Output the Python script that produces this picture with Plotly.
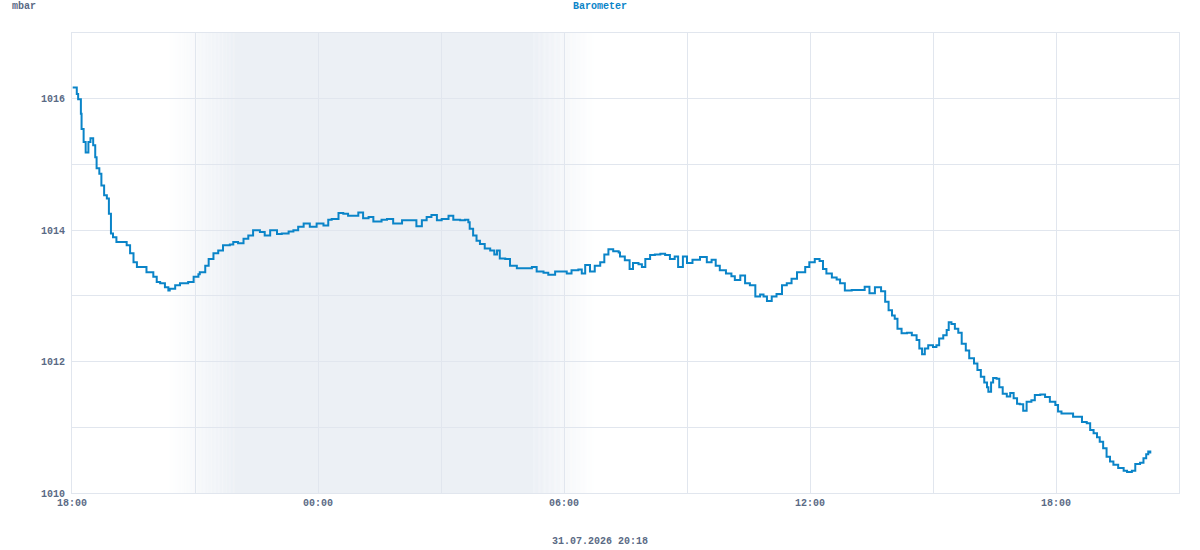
import plotly.graph_objects as go
import pandas as pd

# ---- data -------------------------------------------------------------
start_date = "2026-07-30"
times = [
    "18:01", "18:07", "18:09", "18:13", "18:14", "18:17", "18:20", "18:24", "18:27", "18:31",
    "18:34", "18:36", "18:40", "18:43", "18:47", "18:51", "18:54", "18:57", "19:00", "19:05",
    "19:13", "19:20", "19:25", "19:30", "19:35", "19:42", "19:49", "19:59", "20:04", "20:09",
    "20:16", "20:21", "20:23", "20:31", "20:38", "20:50", "20:58", "21:05", "21:07", "21:15",
    "21:20", "21:27", "21:34", "21:41", "21:51", "21:56", "22:03", "22:11", "22:18", "22:25",
    "22:35", "22:42", "22:50", "23:00", "23:07", "23:17", "23:24", "23:31", "23:39", "23:48",
    "23:58", "00:08", "00:15", "00:20", "00:30", "00:37", "00:44", "00:59", "01:06", "01:14",
    "01:21", "01:33", "01:41", "01:50", "02:03", "02:15", "02:24", "02:32", "02:39", "02:46",
    "02:54", "03:01", "03:11", "03:18", "03:28", "03:35", "03:40", "03:42", "03:47", "03:52",
    "03:57", "04:04", "04:12", "04:18", "04:22", "04:26", "04:34", "04:41", "04:51", "05:00",
    "05:13", "05:20", "05:30", "05:37", "05:47", "05:54", "06:04", "06:11", "06:21", "06:26",
    "06:31", "06:38", "06:45", "06:53", "06:59", "07:05", "07:12", "07:20", "07:22", "07:29",
    "07:36", "07:41", "07:49", "07:54", "07:59", "08:06", "08:13", "08:21", "08:28", "08:35",
    "08:42", "08:47", "08:54", "09:00", "09:08", "09:19", "09:29", "09:36", "09:42", "09:48",
    "09:57", "10:05", "10:10", "10:18", "10:25", "10:32", "10:40", "10:47", "10:52", "10:57",
    "11:04", "11:11", "11:19", "11:26", "11:33", "11:41", "11:48", "11:53", "11:59", "12:07",
    "12:14", "12:19", "12:24", "12:32", "12:39", "12:44", "12:51", "13:01", "13:11", "13:20",
    "13:27", "13:35", "13:44", "13:50", "13:55", "14:00", "14:04", "14:08", "14:14", "14:22",
    "14:29", "14:36", "14:40", "14:44", "14:48", "14:53", "15:00", "15:05", "15:09", "15:15",
    "15:20", "15:23", "15:27", "15:32", "15:37", "15:42", "15:48", "15:53", "16:00", "16:05",
    "16:10", "16:15", "16:19", "16:21", "16:25", "16:28", "16:33", "16:37", "16:42", "16:48",
    "16:53", "16:58", "17:03", "17:07", "17:12", "17:17", "17:24", "17:29", "17:37", "17:44",
    "17:51", "17:59", "18:03", "18:08", "18:18", "18:25", "18:33", "18:38", "18:45", "18:50",
    "18:55", "19:00", "19:04", "19:09", "19:14", "19:19", "19:24", "19:31", "19:39", "19:44",
    "19:51", "19:56", "20:03", "20:08", "20:12", "20:15", "20:18",
]
pressure = [
    1016.17, 1016.07, 1015.99, 1015.77, 1015.54, 1015.34, 1015.18, 1015.34, 1015.40, 1015.29,
    1015.11, 1014.94, 1014.86, 1014.68, 1014.53, 1014.48, 1014.25, 1013.95, 1013.89, 1013.82,
    1013.82, 1013.77, 1013.65, 1013.51, 1013.44, 1013.44, 1013.36, 1013.29, 1013.21, 1013.19,
    1013.13, 1013.08, 1013.11, 1013.16, 1013.19, 1013.21, 1013.29, 1013.33, 1013.36, 1013.46,
    1013.56, 1013.65, 1013.69, 1013.77, 1013.78, 1013.82, 1013.80, 1013.87, 1013.92, 1014.00,
    1013.97, 1013.92, 1014.00, 1013.94, 1013.95, 1013.98, 1014.00, 1014.05, 1014.10, 1014.05,
    1014.10, 1014.07, 1014.16, 1014.17, 1014.26, 1014.25, 1014.22, 1014.27, 1014.18, 1014.20,
    1014.13, 1014.16, 1014.17, 1014.10, 1014.15, 1014.15, 1014.06, 1014.15, 1014.20, 1014.23,
    1014.15, 1014.17, 1014.22, 1014.16, 1014.15, 1014.16, 1014.12, 1014.02, 1013.92, 1013.84,
    1013.79, 1013.72, 1013.69, 1013.63, 1013.69, 1013.57, 1013.56, 1013.46, 1013.42, 1013.42,
    1013.44, 1013.37, 1013.35, 1013.32, 1013.37, 1013.37, 1013.34, 1013.39, 1013.40, 1013.34,
    1013.47, 1013.37, 1013.46, 1013.51, 1013.63, 1013.71, 1013.68, 1013.66, 1013.60, 1013.54,
    1013.41, 1013.50, 1013.48, 1013.44, 1013.56, 1013.62, 1013.63, 1013.64, 1013.62, 1013.56,
    1013.60, 1013.44, 1013.60, 1013.50, 1013.55, 1013.59, 1013.51, 1013.55, 1013.46, 1013.39,
    1013.34, 1013.30, 1013.24, 1013.31, 1013.19, 1013.16, 1012.99, 1013.02, 1012.99, 1012.92,
    1012.99, 1013.03, 1013.16, 1013.19, 1013.26, 1013.36, 1013.36, 1013.44, 1013.51, 1013.56,
    1013.53, 1013.41, 1013.34, 1013.28, 1013.25, 1013.19, 1013.08, 1013.09, 1013.09, 1013.14,
    1013.04, 1013.13, 1013.07, 1012.91, 1012.78, 1012.70, 1012.65, 1012.50, 1012.43, 1012.44,
    1012.40, 1012.33, 1012.20, 1012.11, 1012.20, 1012.25, 1012.22, 1012.25, 1012.35, 1012.40,
    1012.48, 1012.60, 1012.57, 1012.50, 1012.44, 1012.27, 1012.17, 1012.05, 1011.97, 1011.87,
    1011.77, 1011.68, 1011.61, 1011.54, 1011.68, 1011.75, 1011.74, 1011.61, 1011.51, 1011.47,
    1011.52, 1011.44, 1011.36, 1011.35, 1011.25, 1011.39, 1011.41, 1011.49, 1011.50, 1011.46,
    1011.39, 1011.34, 1011.24, 1011.21, 1011.21, 1011.16, 1011.16, 1011.08, 1011.06, 1010.96,
    1010.91, 1010.85, 1010.78, 1010.68, 1010.55, 1010.48, 1010.43, 1010.38, 1010.34, 1010.32,
    1010.34, 1010.44, 1010.46, 1010.53, 1010.59, 1010.63, 1010.60,
]

x_start = "2026-07-30 18:00"
x_end = "2026-07-31 21:00"
y_ticks = [1010, 1011, 1012, 1013, 1014, 1015, 1016, 1017]
y_labels = ["1010", "", "1012", "", "1014", "", "1016", ""]
x_tick_labels = ["18:00", "", "00:00", "", "06:00", "", "12:00", "", "18:00", ""]

# night shading (dusk fade, full night, dawn fade)
dusk = ("2026-07-30 20:20", "2026-07-30 22:00")
dawn = ("2026-07-31 05:15", "2026-07-31 06:45")

title_text = "Barometer"
unit_text = "mbar"
footer_text = "31.07.2026 20:18"

# ---- build timestamps ----------------------------------------------------
stamps = []
day = pd.Timestamp(start_date)
prev = None
for t in times:
    h, m = map(int, t.split(":"))
    mins = h * 60 + m
    if prev is not None and mins < prev:
        day = day + pd.Timedelta(days=1)
    prev = mins
    stamps.append(day + pd.Timedelta(minutes=mins))

x_tickvals = pd.date_range(x_start, x_end, freq="3h")

LINE = "#0a84c8"
TEXT = "#5a6a85"
GRID = "#e1e6ee"
NIGHT = (236, 240, 245)
FONT = "Liberation Mono, Courier New, monospace"

fig = go.Figure()
fig.add_trace(go.Scatter(
    x=stamps, y=pressure, mode="lines",
    line=dict(color=LINE, width=2, shape="hv"),
    hoverinfo="skip", showlegend=False,
))

def mix(a):
    r = round(255 + (NIGHT[0] - 255) * a)
    g = round(255 + (NIGHT[1] - 255) * a)
    b = round(255 + (NIGHT[2] - 255) * a)
    return f"rgb({r},{g},{b})"

shapes = []
steps = 50
for (t0, t1), rising in ((dusk, True), (dawn, False)):
    a = pd.Timestamp(t0)
    b = pd.Timestamp(t1)
    dt = (b - a) / steps
    for i in range(steps):
        frac = (i + 0.5) / steps
        alpha = frac if rising else 1 - frac
        shapes.append(dict(
            type="rect", xref="x", yref="paper",
            x0=a + dt * i, x1=a + dt * (i + 1) + pd.Timedelta(seconds=20),
            y0=0, y1=1, fillcolor=mix(alpha), line=dict(width=0), layer="below",
        ))
shapes.append(dict(
    type="rect", xref="x", yref="paper", x0=pd.Timestamp(dusk[1]), x1=pd.Timestamp(dawn[0]),
    y0=0, y1=1, fillcolor=mix(1), line=dict(width=0), layer="below",
))

fig.update_layout(
    width=1200, height=550,
    margin=dict(l=72, r=21, t=33, b=57),
    paper_bgcolor="white", plot_bgcolor="white",
    font=dict(family=FONT, size=10, color=TEXT),
    shapes=shapes,
    showlegend=False,
    xaxis=dict(
        type="date", range=[x_start, x_end],
        tickvals=x_tickvals, ticktext=x_tick_labels,
        showgrid=True, gridcolor=GRID, gridwidth=1,
        showline=True, linecolor=GRID, linewidth=1, mirror=True,
        ticks="", zeroline=False, tickangle=0,
        tickfont=dict(family=FONT, size=10, color=TEXT, weight="bold"),
    ),
    yaxis=dict(
        range=[1010, 1017],
        tickvals=y_ticks, ticktext=y_labels,
        showgrid=True, gridcolor=GRID, gridwidth=1,
        showline=True, linecolor=GRID, linewidth=1, mirror=True,
        ticks="", zeroline=False, ticklabelstandoff=4,
        tickfont=dict(family=FONT, size=10, color=TEXT, weight="bold"),
    ),
    annotations=[
        dict(text=f"<b>{title_text}</b>", x=600, y=6, xref="paper", yref="paper",
             showarrow=False, font=dict(family=FONT, size=10, color=LINE)),
        dict(text=f"<b>{unit_text}</b>", x=10, y=6, xref="paper", yref="paper",
             showarrow=False, font=dict(family=FONT, size=10, color=TEXT)),
        dict(text=f"<b>{footer_text}</b>", x=600, y=541, xref="paper", yref="paper",
             showarrow=False, font=dict(family=FONT, size=10, color=TEXT)),
    ],
)

# place annotations by pixel positions converted to paper coords
plot_w = 1200 - 72 - 21
plot_h = 550 - 33 - 57
anns = []
for a, (px, py, anchor) in zip(fig.layout.annotations,
                               [(600, 6, "center"), (10, 6, "left"), (600, 541, "center")]):
    a.x = (px - 72) / plot_w
    a.y = (550 - 57 - py) / plot_h
    a.xanchor = anchor
    a.yanchor = "middle"
    anns.append(a)
fig.layout.annotations = anns

fig.write_html("out.html")
